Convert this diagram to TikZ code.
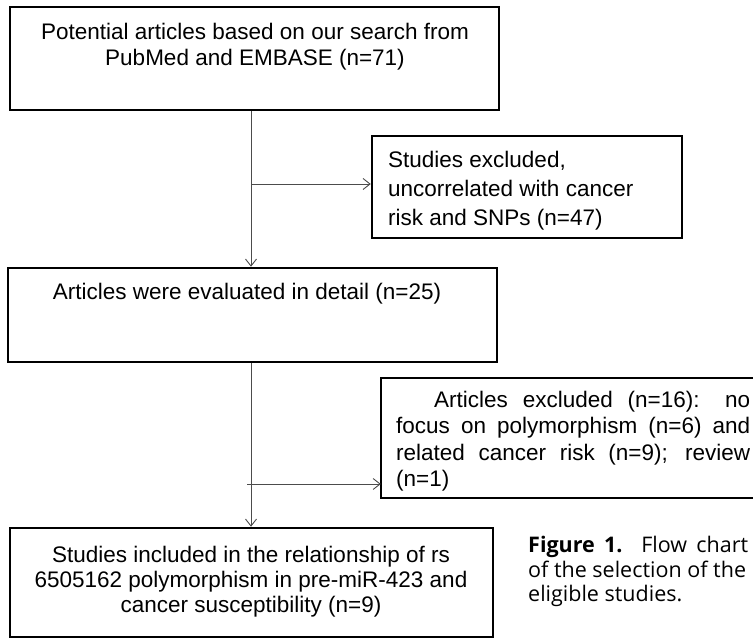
\documentclass[tikz,border=0pt]{standalone}
\usepackage{fontspec}
\setmainfont{Liberation Sans}
\newfontfamily\capfont{Open Sans}
\usetikzlibrary{arrows.meta}
\begin{document}
\begin{tikzpicture}[x=1pt,y=-1pt,
  boxstyle/.style={draw=black, line width=2.5pt},
  txt/.style={inner sep=0pt, font=\fontsize{22.5}{26}\selectfont},
  conn/.style={draw=black!70, line width=0.9pt},
  arr/.style={conn, -{Straight Barb[length=7pt,width=11pt,line width=0.9pt]}}]
\useasboundingbox (0,0) rectangle (753,639);
% boxes
\node[inner sep=0pt, minimum width=489pt, minimum height=103pt, boxstyle] (box1) at (254.5,58.5) {};
\node[inner sep=0pt, minimum width=310pt, minimum height=102pt, boxstyle] (box2) at (527,187) {};
\node[inner sep=0pt, minimum width=489pt, minimum height=94pt, boxstyle] (box3) at (252.5,315) {};
\draw[boxstyle] (761,378) -- (381,378) -- (381,498) -- (761,498);
\node[inner sep=0pt, minimum width=379pt, minimum height=120pt] (box4) at (570.5,438) {};
\node[inner sep=0pt, minimum width=483pt, minimum height=109pt, boxstyle] (box5) at (251.5,582.5) {};
% texts
\node[txt, align=center, anchor=north] (t1) at (255,23) {Potential articles based on our search from\\PubMed and EMBASE (n=71)};
\node[txt, align=left, anchor=north west, font=\fontsize{22.5}{29}\selectfont] (t2) at (388,151) {Studies excluded,\\uncorrelated with cancer\\risk and SNPs (n=47)};
\node[txt, anchor=north] (t3) at (247,283) {Articles were evaluated in detail (n=25)};
\node[txt, anchor=north west, align=left, font=\fontsize{22.5}{26.3}\selectfont] (t4) at (396,391) {\makebox[354pt][s]{\hspace*{38pt}Articles excluded (n=16): no}\\\makebox[354pt][s]{focus on polymorphism (n=6) and}\\\makebox[354pt][s]{related cancer risk (n=9); review}\\(n=1)};
\node[txt, align=center, anchor=north, font=\fontsize{22.5}{25}\selectfont] (t5) at (251,546) {Studies included in the relationship of rs\\6505162 polymorphism in pre-miR-423 and\\cancer susceptibility (n=9)};
\node[inner sep=0pt, anchor=north west, align=left, font=\capfont\fontsize{21.5}{24.5}\selectfont] (cap) at (528,536) {\makebox[220pt][s]{\textbf{Figure 1.} Flow chart}\\of the selection of the\\eligible studies.};
% connectors
\coordinate (j1) at (251,184);
\coordinate (j2) at (247,484);
\draw[arr] (box1.south -| j1) -- (box3.north -| j1);
\draw[arr] (j1) -- (j1 -| box2.west);
\draw[arr] (box3.south -| j1) -- (box5.north -| j1);
\draw[arr] (j2) -- (j2 -| box4.west);
\end{tikzpicture}
\end{document}
